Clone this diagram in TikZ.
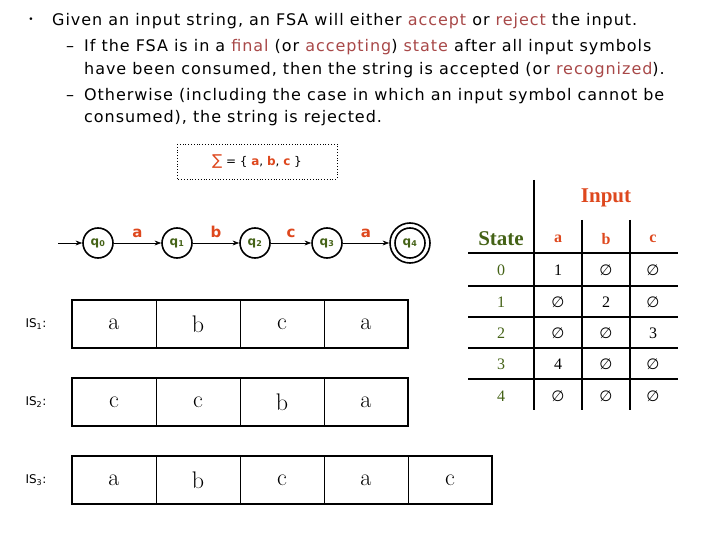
\documentclass[tikz,border=0pt]{standalone}
\usepackage{amssymb}
\usepackage{fontspec}
\newfontfamily\verd{DejaVu Sans}
\newfontfamily\verdw[LetterSpace=6]{DejaVu Sans}
\newfontfamily\tms{Liberation Serif}
\usepackage{xcolor}
\usetikzlibrary{positioning, calc}
\usetikzlibrary{arrows.meta}

\definecolor{fsared}{RGB}{168,72,72}
\definecolor{symred}{RGB}{222,72,30}
\definecolor{stgreen}{RGB}{68,98,22}

\newcommand{\nul}{{\verd\fontsize{15}{16}\selectfont ∅}}

\tikzset{
  txt/.style={anchor=base west, inner sep=0pt, font=\verdw\fontsize{16}{19}\selectfont},
  state/.style={circle, draw, line width=1.6pt, minimum size=30pt, inner sep=0pt,
    font=\verd\bfseries\fontsize{12}{14}\selectfont, text=stgreen},
  sym/.style={font=\verd\bfseries\fontsize{15}{17}\selectfont, text=symred},
  cell/.style={draw, line width=0.9pt, minimum width=84pt, minimum height=48pt,
    inner sep=0pt, font=\fontsize{24}{26}\selectfont},
  islab/.style={font=\verd\fontsize{12}{14}\selectfont},
  entry/.style={font=\tms\fontsize{16}{18}\selectfont},
}

\begin{document}
\begin{tikzpicture}[>=Stealth, x=1pt, y=-1pt]
  \useasboundingbox (0,0) rectangle (720,540);

  % --- Testo ---
  \node[font=\verd\fontsize{9}{10}\selectfont] (bul) at (31,20) {•};
  \node[txt] (l1) at (52,26) {Given an input string, an FSA will either \textcolor{fsared}{accept} or \textcolor{fsared}{reject} the input.};
  \node[txt] (d1) at (66,52) {–};
  \node[txt] (l2) at (84,52) {If the FSA is in a \textcolor{fsared}{final} (or \textcolor{fsared}{accepting}) \textcolor{fsared}{state} after all input symbols};
  \node[txt] (l3) at (84,75) {have been consumed, then the string is accepted (or \textcolor{fsared}{recognized}).};
  \node[txt] (d2) at (66,101) {–};
  \node[txt] (l4) at (84,101) {Otherwise (including the case in which an input symbol cannot be};
  \node[txt] (l5) at (84,123) {consumed), the string is rejected.};

  % --- Alfabeto ---
  \draw[dotted, thick] (177,144) rectangle (337,179);
  \node[font=\verd\fontsize{12}{14}\selectfont] (alph) at (257,162)
    {\textcolor{symred}{\fontsize{15}{15}\selectfont ∑} = \{ \textcolor{symred}{\textbf{a}}, \textcolor{symred}{\textbf{b}}, \textcolor{symred}{\textbf{c}} \}};

  % --- FSA ---
  \coordinate (start) at (58,243);
  \node[state] (q0) at (98,243) {q\textsubscript{0}};
  \node[state] (q1) at (177,243) {q\textsubscript{1}};
  \node[state] (q2) at (255,243) {q\textsubscript{2}};
  \node[state] (q3) at (327,243) {q\textsubscript{3}};
  \node[state, minimum size=40pt] (q4) at (410,243) {q\textsubscript{4}};
  \draw[line width=1.6pt] (q4.center) circle (15);
  \draw[->, thick] (start) -- (q0);
  \draw[->, thick] (q0) -- (q1) node[sym, midway, above=2pt] {a};
  \draw[->, thick] (q1) -- (q2) node[sym, midway, above=2pt] {b};
  \draw[->, thick] (q2) -- (q3) node[sym, midway, above=2pt] {c};
  \draw[->, thick] (q3) -- (q4) node[sym, midway, above=2pt] {a};

  % --- Stringhe di input ---
  \foreach \row/\y/\word in {1/324/{a,b,c,a}, 2/402/{c,c,b,a}, 3/480/{a,b,c,a,c}} {
    \node[islab, anchor=west] (is\row) at (22,\y) {IS\textsubscript{\row}:};
    \foreach \ch [count=\i] in \word {
      \node[cell] (s\row c\i) at ({114+84*(\i-1)},\y) {\ch};
    }
  }
  \draw[line width=2pt] (s1c1.north west) rectangle (s1c4.south east);
  \draw[line width=2pt] (s2c1.north west) rectangle (s2c4.south east);
  \draw[line width=2pt] (s3c1.north west) rectangle (s3c5.south east);

  % --- Tabella di transizione ---
  \draw[line width=1.5pt] (534,180) -- (534,410);
  \draw[line width=1.5pt] (582,220) -- (582,410);
  \draw[line width=1.5pt] (630,220) -- (630,410);
  \foreach \y in {253,286,317,348,379}
    \draw[line width=1.5pt] (468,\y) -- (678,\y);

  \node[font=\tms\bfseries\fontsize{21}{23}\selectfont, text=symred] (inp) at (606,198) {Input};
  \node[font=\tms\bfseries\fontsize{21}{23}\selectfont, text=stgreen] (st) at (501,239) {State};
  \node[font=\tms\bfseries\fontsize{16}{18}\selectfont, text=symred] (ha) at (558,239) {a};
  \node[font=\tms\bfseries\fontsize{16}{18}\selectfont, text=symred] (hb) at (606,239) {b};
  \node[font=\tms\bfseries\fontsize{16}{18}\selectfont, text=symred] (hc) at (653,239) {c};

  \foreach \s/\y/\ea/\eb/\ec in {0/270/1/\nul/\nul, 1/302/\nul/2/\nul,
      2/333/\nul/\nul/3, 3/364/4/\nul/\nul, 4/396/\nul/\nul/\nul} {
    \node[entry, text=stgreen] (r\s) at (501,\y) {\s};
    \node[entry] (r\s a) at (558,\y) {\ea};
    \node[entry] (r\s b) at (606,\y) {\eb};
    \node[entry] (r\s c) at (653,\y) {\ec};
  }

\end{tikzpicture}
\end{document}
